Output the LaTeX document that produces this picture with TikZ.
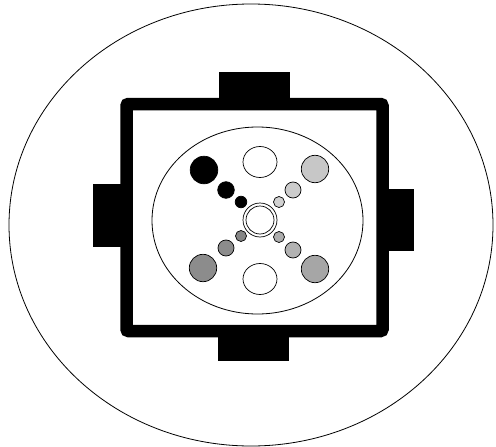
\documentclass[tikz,border=0pt]{standalone}
\begin{document}
\begin{tikzpicture}[x=1pt,y=-1pt,
  thin line/.style={draw=black,line width=0.8pt},
  tab/.style={fill=black},
  dot/.style={draw=black,line width=0.7pt}]
\useasboundingbox (0,0) rectangle (496,447);
\fill[white] (0,0) rectangle (496,447);
% outer ellipse
\draw[thin line] (251,225) ellipse [x radius=242, y radius=221];
% tabs
\fill[tab] (219,72) rectangle (290,100);
\fill[tab] (218,335) rectangle (289,361);
\fill[tab] (93,184) rectangle (121,247);
\fill[tab] (387,189) rectangle (414,251);
% frame
\draw[line width=12.5pt,rounded corners=2pt] (126.5,104) rectangle (382.5,331);
% inner ellipse
\draw[thin line] (257.5,220.5) ellipse [x radius=105.5, y radius=93.5];
% centre double circle
\draw[dot,fill=white] (260,220) circle (17);
\draw[dot] (260,220) circle (14);
% top / bottom white
\draw[dot,fill=white] (260,162) ellipse [x radius=17, y radius=15.5];
\draw[dot,fill=white] (260,279) ellipse [x radius=17, y radius=15.5];
% top-left black arm
\draw[dot,fill=black] (204,170) circle (13.8);
\draw[dot,fill=black] (226,190) circle (8.3);
\draw[dot,fill=black] (241,202) circle (5.8);
% top-right light arm
\draw[dot,fill=black!22] (315,169) circle (13.7);
\draw[dot,fill=black!20] (293,190) circle (8);
\draw[dot,fill=black!18] (279,202) circle (5.5);
% bottom-left dark gray arm
\draw[dot,fill=black!48] (241,236) circle (5.5);
\draw[dot,fill=black!45] (226,248) circle (8);
\draw[dot,fill=black!45] (203,268) circle (13.7);
% bottom-right medium gray arm
\draw[dot,fill=black!32] (279,237) circle (5.5);
\draw[dot,fill=black!30] (293,250) circle (8);
\draw[dot,fill=black!35] (315,269) circle (13.7);
\end{tikzpicture}
\end{document}
